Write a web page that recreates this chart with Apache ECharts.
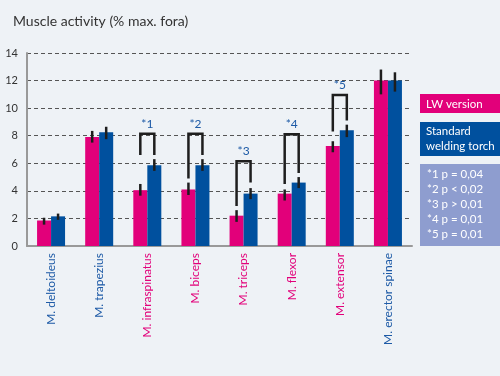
<!DOCTYPE html>
<html>
<head>
<meta charset="utf-8">
<script src="https://cdn.jsdelivr.net/npm/echarts@6/dist/echarts.min.js"></script>
<style>
  html, body { margin: 0; padding: 0; background: #eef2f6; }
  #chart { width: 500px; height: 376px; }
</style>
</head>
<body>
<div id="chart"></div>
<script>
// data
const categories = ['M. deltoideus', 'M. trapezius', 'M. infraspinatus', 'M. biceps',
  'M. triceps', 'M. flexor', 'M. extensor', 'M. erector spinae'];
const labelIsPink = [false, false, true, true, true, true, true, false];
const lwValues = [1.85, 7.9, 4.05, 4.1, 2.2, 3.8, 7.25, 12.0];
const stdValues = [2.15, 8.25, 5.85, 5.85, 3.8, 4.6, 8.4, 12.0];
const lwErrLow = [1.55, 7.5, 3.65, 3.7, 1.75, 3.3, 6.8, 11.0];
const lwErrHigh = [2.05, 8.35, 4.5, 4.6, 2.6, 4.1, 7.6, 12.8];
const stdErrLow = [1.9, 7.75, 5.45, 5.45, 3.4, 4.2, 7.9, 11.2];
const stdErrHigh = [2.35, 8.65, 6.3, 6.3, 4.2, 5.0, 8.8, 12.6];
// significance brackets
const bracketCats = [2, 3, 4, 5, 6];
const bracketTop = [8.15, 8.15, 6.15, 8.1, 10.95];
const bracketLeftEnd = [6.6, 4.9, 2.9, 4.5, 8.3];
const bracketRightEnd = [6.6, 6.6, 4.6, 5.3, 9.1];
const bracketLabels = ['*1', '*2', '*3', '*4', '*5'];
const pValues = ['*1 p = 0,04', '*2 p < 0,02', '*3 p > 0,01', '*4 p = 0,01', '*5 p = 0,01'];
const yTicks = [0, 2, 4, 6, 8, 10, 12, 14];

const PINK = '#e2007a';
const BLUE = '#00509e';
const LAVENDER = '#8e9dcf';
const FONT = 'Lato';
const BAR_W = 14;

function errBar(offset) {
  return function (params, api) {
    const lo = api.coord([api.value(0), api.value(1)]);
    const hi = api.coord([api.value(0), api.value(2)]);
    return {
      type: 'line',
      shape: { x1: lo[0] + offset, y1: lo[1], x2: hi[0] + offset, y2: hi[1] },
      style: { stroke: '#1e1e1e', lineWidth: 2.5 }
    };
  };
}

const chart = echarts.init(document.getElementById('chart'));
chart.setOption({
  backgroundColor: '#eef2f6',
  animation: false,
  textStyle: { fontFamily: FONT },
  title: {
    text: 'Muscle activity (% max. fora)',
    left: 8, top: 9,
    textStyle: { fontFamily: FONT, fontSize: 14, fontWeight: 'normal', color: '#333' }
  },
  grid: { left: 27, right: 88, top: 53, bottom: 130 },
  xAxis: {
    type: 'category',
    data: categories,
    axisLine: { lineStyle: { color: '#999', width: 2 } },
    axisTick: { show: false },
    axisLabel: {
      rotate: 90,
      margin: 7,
      fontFamily: FONT,
      fontSize: 12,
      color: function (v, i) { return labelIsPink[i] ? PINK : '#1d5aa6'; }
    }
  },
  yAxis: {
    type: 'value',
    min: 0, max: 14, interval: 2,
    axisLine: { show: true, lineStyle: { color: '#999', width: 2 } },
    axisTick: { show: false },
    axisLabel: {
      margin: 9, fontSize: 11, color: '#333', fontFamily: FONT,
      formatter: function (v) { return yTicks.indexOf(v) >= 0 ? v : ''; }
    },
    splitLine: { lineStyle: { color: '#555', type: [4, 3], width: 1 } }
  },
  series: [
    {
      name: 'LW version', type: 'bar', data: lwValues,
      barWidth: BAR_W, barGap: '0%',
      itemStyle: { color: PINK }
    },
    {
      name: 'Standard welding torch', type: 'bar', data: stdValues,
      barWidth: BAR_W, barGap: '0%',
      itemStyle: { color: BLUE }
    },
    {
      type: 'custom', z: 5,
      renderItem: errBar(-BAR_W / 2),
      encode: { x: 0, y: [1, 2] },
      data: categories.map((c, i) => [i, lwErrLow[i], lwErrHigh[i]])
    },
    {
      type: 'custom', z: 5,
      renderItem: errBar(BAR_W / 2),
      encode: { x: 0, y: [1, 2] },
      data: categories.map((c, i) => [i, stdErrLow[i], stdErrHigh[i]])
    },
    {
      type: 'custom', z: 6,
      encode: { x: 0, y: [1, 2, 3] },
      data: bracketCats.map((c, i) => [c, bracketTop[i], bracketLeftEnd[i], bracketRightEnd[i], bracketLabels[i]]),
      renderItem: function (params, api) {
        const top = api.coord([api.value(0), api.value(1)]);
        const yl = api.coord([api.value(0), api.value(2)])[1];
        const yr = api.coord([api.value(0), api.value(3)])[1];
        const xl = top[0] - BAR_W / 2, xr = top[0] + BAR_W / 2;
        return {
          type: 'group',
          children: [
            {
              type: 'polyline',
              shape: { points: [[xl, yl], [xl, top[1]], [xr, top[1]], [xr, yr]] },
              style: { stroke: '#1e1e1e', lineWidth: 2.5, fill: 'none' }
            },
            {
              type: 'text',
              style: {
                text: api.value(4), x: top[0], y: top[1] - 4,
                align: 'center', verticalAlign: 'bottom',
                fill: '#1d5aa6', fontSize: 12, fontFamily: FONT
              }
            }
          ]
        };
      }
    }
  ],
  graphic: [
    { type: 'rect', shape: { x: 420, y: 94, width: 80, height: 19 }, style: { fill: PINK } },
    { type: 'text', style: { x: 426, y: 104, text: 'LW version', verticalAlign: 'middle', fill: '#fff', fontSize: 11.5, fontFamily: FONT } },
    { type: 'rect', shape: { x: 420, y: 122, width: 80, height: 34 }, style: { fill: BLUE } },
    { type: 'text', style: { x: 426, y: 139, text: 'Standard\nwelding torch', lineHeight: 15, verticalAlign: 'middle', fill: '#fff', fontSize: 11.5, fontFamily: FONT } },
    { type: 'rect', shape: { x: 420, y: 164, width: 80, height: 82 }, style: { fill: LAVENDER } },
    { type: 'text', style: { x: 427, y: 204.5, text: pValues.join('\n'), lineHeight: 15, verticalAlign: 'middle', fill: '#fff', fontSize: 11.5, fontFamily: FONT } }
  ]
});
</script>
</body>
</html>
